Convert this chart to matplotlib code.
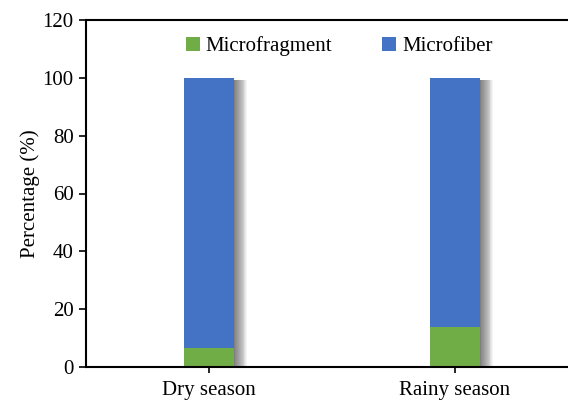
import matplotlib
matplotlib.use('Agg')
import matplotlib.pyplot as plt
import matplotlib.patheffects as pe

plt.rcParams['font.family'] = ['Liberation Serif', 'DejaVu Serif']

#season categories and composition of the particles (%)
seasons = ['Dry season', 'Rainy season']
microfragment = [6.6, 14.0]
microfiber = [93.4, 86.0]
yticks = [0, 20, 40, 60, 80, 100, 120]

green = '#70AD47'
blue = '#4472C4'

fig = plt.figure(figsize=(5.68, 4.01), dpi=100)
ax = fig.add_axes([86/568, 1 - 367/401, 492/568, 347/401])

x = range(len(seasons))
totals = [a + b for a, b in zip(microfragment, microfiber)]

#soft shadow behind each stacked column
shadow = [pe.SimplePatchShadow(offset=(0.65*k, -1.8), shadow_rgbFace='k', alpha=0.045)
          for k in range(1, 16)]
ax.bar(x, totals, width=0.2, color='white', zorder=1, path_effects=shadow + [pe.Normal()])

ax.bar(x, microfragment, width=0.2, color=green, label='Microfragment', zorder=2)
ax.bar(x, microfiber, width=0.2, bottom=microfragment, color=blue, label='Microfiber', zorder=2)

ax.set_xlim(-0.5, 1.5)
ax.set_ylim(0, 120)
ax.set_yticks(yticks)
ax.set_xticks(list(x))
ax.set_xticklabels(seasons)
ax.tick_params(axis='both', labelsize=15, direction='out', width=1.2, color='k')
ax.tick_params(axis='y', length=5, pad=4)
ax.tick_params(axis='x', length=4, pad=6)
for s in ['left', 'top', 'bottom']:
    ax.spines[s].set_linewidth(1.5)
ax.spines['right'].set_visible(False)
ax.set_ylabel('Percentage (%)', fontsize=15, labelpad=2)

ax.legend(loc='upper center', bbox_to_anchor=(0.515, 0.978), ncol=2, frameon=False,
          fontsize=15, handlelength=0.65, handleheight=0.65, handletextpad=0.3,
          columnspacing=2.4, borderaxespad=0)

plt.savefig('out.png', dpi=100)
